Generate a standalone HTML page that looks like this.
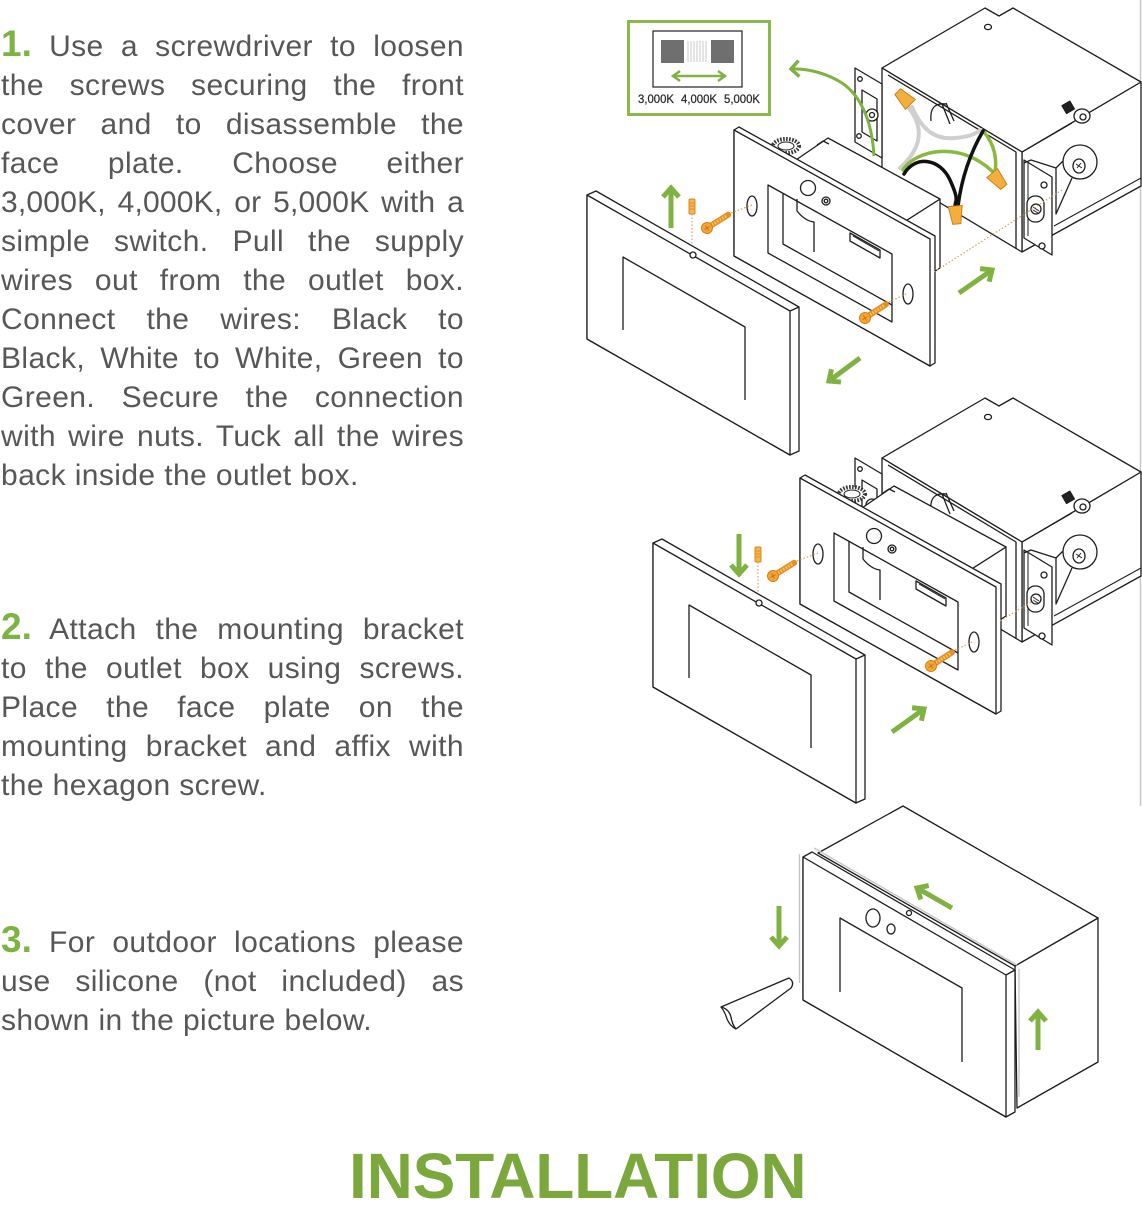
<!DOCTYPE html>
<html><head><meta charset="utf-8">
<style>
html,body{margin:0;padding:0;background:#fff;}
body{width:1142px;height:1200px;position:relative;overflow:hidden;font-family:"Liberation Sans",Arial,sans-serif;}
.p{position:absolute;left:1px;width:463px;font-size:30px;line-height:39px;color:#575757;letter-spacing:0.4px;}
.p div{text-align:justify;text-align-last:justify;height:39px;}
.p div.l{text-align-last:left;}
.n{color:#7cb342;font-weight:bold;font-size:37px;line-height:0;letter-spacing:0;}
.title{position:absolute;left:349px;top:1144px;font-size:64px;line-height:64px;font-weight:bold;color:#7aa83c;letter-spacing:-0.2px;white-space:nowrap;}
svg{position:absolute;left:0;top:0;}
</style></head>
<body>

<div class="p" style="top:27px">
<div><span class="n">1.</span> Use a screwdriver to loosen</div>
<div>the screws securing the front</div>
<div>cover and to disassemble the</div>
<div>face plate. Choose either</div>
<div style="letter-spacing:0.2px">3,000K, 4,000K, or 5,000K with a</div>
<div>simple switch. Pull the supply</div>
<div>wires out from the outlet box.</div>
<div>Connect the wires: Black to</div>
<div>Black, White to White, Green to</div>
<div>Green. Secure the connection</div>
<div>with wire nuts. Tuck all the wires</div>
<div class="l">back inside the outlet box.</div>
</div>

<div class="p" style="top:610px">
<div><span class="n">2.</span> Attach the mounting bracket</div>
<div>to the outlet box using screws.</div>
<div>Place the face plate on the</div>
<div>mounting bracket and affix with</div>
<div class="l">the hexagon screw.</div>
</div>

<div class="p" style="top:923px">
<div><span class="n">3.</span> For outdoor locations please</div>
<div>use silicone (not included) as</div>
<div class="l">shown in the picture below.</div>
</div>

<div class="title">INSTALLATION</div>

<svg width="1142" height="1200" viewBox="0 0 1142 1200" xmlns="http://www.w3.org/2000/svg">
<defs>
 <marker id="ch" markerUnits="userSpaceOnUse" markerWidth="24" markerHeight="24" viewBox="0 0 24 24" refX="15" refY="12" orient="auto" overflow="visible">
  <polyline points="6,4 15,12 6,20" fill="none" stroke="#7fb241" stroke-width="5" stroke-linejoin="miter"/>
 </marker>
 <marker id="ch2" markerUnits="userSpaceOnUse" markerWidth="24" markerHeight="24" viewBox="0 0 24 24" refX="15" refY="12" orient="auto" overflow="visible">
  <polyline points="7,4 15,12 7,20" fill="none" stroke="#7fb241" stroke-width="3.5" stroke-linejoin="miter"/>
 </marker>

 <g id="scr">
  <line x1="4" y1="0" x2="25" y2="0" stroke="#e58f22" stroke-width="6" stroke-linecap="round"/>
  <line x1="6" y1="0" x2="24" y2="0" stroke="#f9c66a" stroke-width="3" stroke-dasharray="1.5 1.5"/>
  <circle r="5.5" fill="#f4a535" stroke="#d47f15" stroke-width="1"/>
  <path d="M-3,0 H3 M0,-3 V3" stroke="#c97412" stroke-width="1"/>
 </g>

 <g id="box" fill="#fff" stroke="#1e1e1e" stroke-width="1.3" stroke-linejoin="round">
  <polygon points="1022,152 1141,82 1141,186 1022,252"/>
  <line x1="1054" y1="226" x2="1141" y2="178" stroke-width="1"/>
  <polygon points="882,68 985,8 999,16 1013,8 1141,82 1022,152"/>
  <ellipse cx="988" cy="27" rx="3.5" ry="2.6"/>
  <polygon points="882,68 1022,152 1022,252 882,168"/>
  <polyline points="888,75 1016,152 1016,249" fill="none"/>
  <path d="M931,121 Q929,102 946,104" fill="none"/>
  <path d="M942,104 L950,124 M946,103 L954,121" fill="none"/>
  <!-- right ear -->
  <polygon points="1024,160 1052,177 1052,255 1024,238"/>
  <polyline points="1028,162 1028,236" fill="none" stroke-width="1"/>
  <rect x="1027" y="196" width="17" height="26" rx="8"/>
  <circle cx="1036" cy="209" r="5"/>
  <path d="M1033,207 L1039,211 M1033,210 L1038,213" fill="none" stroke-width="1"/>
  <circle cx="1044" cy="185" r="3"/>
  <circle cx="1042" cy="246" r="3"/>
  <!-- tab -->
  <path d="M1024,163 L1031,160 L1056,168 L1068,156 M1056,168 L1056,214 L1072,178" fill="none"/>
  <circle cx="1080" cy="162" r="17"/>
  <ellipse cx="1079" cy="166" rx="6" ry="7"/>
  <path d="M1076,164 L1082,168 M1077,168 L1081,163" fill="none" stroke-width="1"/>
  <!-- arm and top screw -->
  <line x1="1022" y1="152" x2="1072" y2="123"/>
  <rect x="1064" y="103" width="9" height="9" fill="#222" transform="rotate(-30 1068 108)"/>
  <ellipse cx="1082" cy="116" rx="8" ry="7"/>
  <ellipse cx="1083" cy="117" rx="3" ry="3"/>
  <!-- left ear -->
  <polygon points="855,68 882,84 882,158 855,142"/>
  <path d="M862,90 L877,99 L877,141 L862,132 Z"/>
  <circle cx="872" cy="115" r="6"/>
  <circle cx="872" cy="115" r="2.5"/>
  <circle cx="860" cy="79" r="2.3"/>
  <circle cx="859" cy="136" r="2.3"/>
 </g>

 <g id="assy" fill="#fff" stroke="#1e1e1e" stroke-width="1.3" stroke-linejoin="round">
  <!-- housing -->
  <polygon points="904,222 940,199 940,268 904,291"/>
  <polygon points="793,162 828,138 940,199 904,222"/>
  <path d="M817,145 L823,141 L829,144" fill="none"/>
  <ellipse cx="786" cy="146" rx="13" ry="7" stroke="#333" stroke-width="4" stroke-dasharray="1.6 1.4"/>
  <ellipse cx="786" cy="146" rx="8" ry="4" stroke-width="1"/>
  <!-- plate -->
  <polygon points="739,127 935,236 935,363 930,366 734,256 734,130"/>
  <polygon points="734,130 930,239 930,366 734,256"/>
  <polygon points="768,185 892,254 892,322 768,253"/>
  <polyline points="783,193 783,244 892,305" fill="none"/>
  <path d="M797,199 L797,211 Q805,221 814,222 L814,252" fill="none"/>
  <polygon points="850,233 880,250 880,258 850,241"/>
  <line x1="853" y1="236" x2="879" y2="251" stroke-width="1"/>
  <circle cx="808" cy="188" r="7.5"/>
  <circle cx="826" cy="201" r="4"/>
  <circle cx="826" cy="201" r="1.8"/>
  <ellipse cx="752" cy="206" rx="5" ry="10"/>
  <ellipse cx="908" cy="294" rx="5" ry="10"/>
  <!-- dotted guides -->
  <line x1="731" y1="213" x2="752" y2="205" stroke="#d4a35a" stroke-width="1.2" stroke-dasharray="1.5 2"/>
  <line x1="889" y1="302" x2="908" y2="293" stroke="#d4a35a" stroke-width="1.2" stroke-dasharray="1.5 2"/>
  <line x1="692" y1="214" x2="692" y2="251" stroke="#d4a35a" stroke-width="1.2" stroke-dasharray="1.5 2"/>
  <!-- screws -->
  <use href="#scr" transform="translate(707,228) rotate(-32)"/>
  <use href="#scr" transform="translate(865,318) rotate(-33)"/>
  <rect x="689" y="199" width="6" height="15" rx="1" fill="#f6b44d" stroke="#d9891e" stroke-width="1"/>
  <path d="M689,203 H695 M689,206 H695 M689,209 H695" stroke="#d9891e" stroke-width="0.8"/>
  <!-- cover -->
  <polygon points="596,191 799,307 799,451 790,455 587,339 587,195"/>
  <polygon points="587,195 790,311 790,455 587,339"/>
  <line x1="790" y1="311" x2="799" y2="307"/>
  <path d="M623,330 L623,257 L745,327 L745,400" fill="none"/>
  <circle cx="693" cy="255" r="3"/>
 </g>
</defs>

<!-- right border line -->
<line x1="1140.5" y1="0" x2="1140.5" y2="806" stroke="#c8c8c8" stroke-width="1.5"/>

<!-- ===== Diagram 1 ===== -->
<use href="#box"/>
<g fill="none" stroke-linecap="round">
 <path d="M909,108 C922,125 925,145 900,168" stroke="#cfcfcf" stroke-width="4"/>
 <path d="M912,107 C922,130 935,140 955,138 S975,133 981,130" stroke="#cfcfcf" stroke-width="4"/>
 <path d="M903,170 C915,150 960,140 993,172" stroke="#8bb83f" stroke-width="3.5"/>
 <path d="M984,132 C995,145 997,160 995,172" stroke="#8bb83f" stroke-width="3.5"/>
 <path d="M904,174 C915,155 940,158 950,180 S955,200 955,206" stroke="#111" stroke-width="3.5"/>
 <path d="M983,131 C972,150 962,175 958,206" stroke="#111" stroke-width="3.5"/>
</g>
<g fill="#f4ae3d" stroke="#c9831d" stroke-width="1">
 <path d="M-4,-9 L4,-9 L7,9 L-7,9 Z" transform="translate(904,98) rotate(-45)"/>
 <path d="M-4,-9 L4,-9 L7,9 L-7,9 Z" transform="translate(998,180) rotate(140)"/>
 <path d="M-4,-9 L4,-9 L7,9 L-7,9 Z" transform="translate(956,215) rotate(175)"/>
</g>
<use href="#assy"/>
<line x1="934" y1="272" x2="1062" y2="190" stroke="#d4a35a" stroke-width="1.2" stroke-dasharray="1.5 2"/>

<!-- curved arrow to swatch -->
<path d="M874,156 C872,120 860,95 842,83 C828,74 808,68 791,69" fill="none" stroke="#7fb241" stroke-width="3" marker-end="url(#ch2)"/>

<!-- arrows diagram 1 -->
<g stroke="#7fb241" stroke-width="5" fill="none">
 <path d="M671,228 L671,188" marker-end="url(#ch)"/>
 <path d="M860,358 L829,381" marker-end="url(#ch)"/>
 <path d="M959,293 L992,270" marker-end="url(#ch)"/>
</g>

<!-- swatch box -->
<rect x="628.5" y="21.5" width="141" height="93" fill="#fff" stroke="#8bb84a" stroke-width="3"/>
<rect x="653" y="31" width="89" height="56" fill="#fff" stroke="#222" stroke-width="1.2"/>
<rect x="661" y="40" width="73" height="23" fill="#6f6f6f"/>
<rect x="684" y="40" width="27" height="23" fill="#fff"/>
<g stroke="#bbb" stroke-width="0.8">
 <line x1="688" y1="41" x2="688" y2="62"/><line x1="691" y1="41" x2="691" y2="62"/>
 <line x1="694" y1="41" x2="694" y2="62"/><line x1="697" y1="41" x2="697" y2="62"/>
 <line x1="700" y1="41" x2="700" y2="62"/><line x1="703" y1="41" x2="703" y2="62"/>
 <line x1="706" y1="41" x2="706" y2="62"/>
</g>
<g stroke="#7fb241" stroke-width="2.5" fill="none">
 <line x1="673" y1="76" x2="725" y2="76"/>
 <polyline points="680,71 673,76 680,81"/>
 <polyline points="718,71 725,76 718,81"/>
</g>
<g font-family="Liberation Sans, Arial, sans-serif" font-size="12" fill="#2a2a2a" stroke="#2a2a2a" stroke-width="0.25">
 <text x="638" y="103" textLength="36" lengthAdjust="spacingAndGlyphs">3,000K</text>
 <text x="681" y="103" textLength="36" lengthAdjust="spacingAndGlyphs">4,000K</text>
 <text x="724" y="103" textLength="36" lengthAdjust="spacingAndGlyphs">5,000K</text>
</g>

<!-- ===== Diagram 2 ===== -->
<use href="#box" transform="translate(0,390)"/>
<use href="#assy" transform="translate(66,348)"/>
<line x1="1000" y1="621" x2="1036" y2="599" stroke="#d4a35a" stroke-width="1.2" stroke-dasharray="1.5 2"/>
<g stroke="#7fb241" stroke-width="5" fill="none">
 <path d="M739,534 L739,574" marker-end="url(#ch)"/>
 <path d="M892,732 L924,709" marker-end="url(#ch)"/>
</g>

<!-- ===== Diagram 3 ===== -->
<g fill="#fff" stroke="#1e1e1e" stroke-width="1.3" stroke-linejoin="round">
 <polygon points="1015,966 1098,918 1098,1062 1017,1108"/>
 <polygon points="818,853 903,806 1098,918 1015,966"/>
 <polygon points="803,857 812,852 1015,970 1015,1112 1006,1117 803,1000"/>
 <polygon points="803,857 1006,975 1006,1117 803,1000"/>
 <line x1="1006" y1="975" x2="1015" y2="970"/>
 <path d="M840,992 L840,918 L962,988 L962,1062" fill="none"/>
 <ellipse cx="873" cy="918" rx="7" ry="9"/>
 <ellipse cx="891" cy="929" rx="4" ry="5"/>
 <circle cx="909" cy="913" r="2.5"/>
 <path d="M789,978 Q795,982 791,988 L736,1029 Q730,1026 727,1019 Q725,1012 721,1007 Z"/>
 <path d="M721,1007 Q729,1009 731,1017 Q732,1024 736,1029" fill="none"/>
</g>
<g stroke="#c4c4c4" stroke-width="1.3" fill="none">
 <line x1="799.5" y1="854" x2="799.5" y2="983"/>
 <line x1="814" y1="848" x2="1017" y2="965"/>
 <line x1="1019" y1="969" x2="1019" y2="1097"/>
</g>
<g stroke="#7fb241" stroke-width="5" fill="none">
 <path d="M952,908 L917,888" marker-end="url(#ch)"/>
 <path d="M779,906 L779,946" marker-end="url(#ch)"/>
 <path d="M1038,1050 L1038,1012" marker-end="url(#ch)"/>
</g>
</svg>
</body></html>
